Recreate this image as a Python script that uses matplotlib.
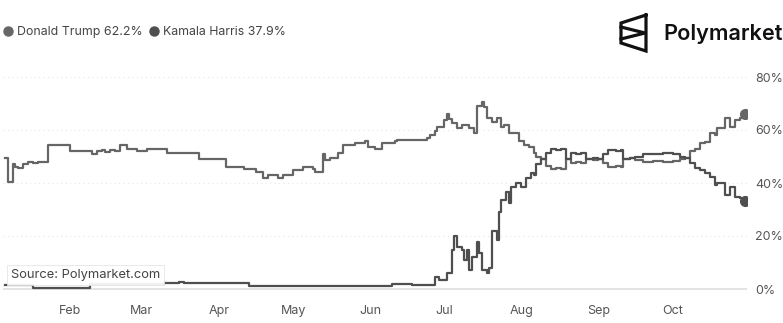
import matplotlib
matplotlib.use("Agg")
import matplotlib.pyplot as plt
import matplotlib.dates as mdates
from matplotlib.lines import Line2D
import numpy as np

plt.rcParams['font.family'] = ['Inter', 'DejaVu Sans']

# Polymarket odds, 2024 presidential election (percent)
trump_dates = [
    '2024-01-06', '2024-01-07', '2024-01-09', '2024-01-10', '2024-01-11', '2024-01-13',
    '2024-01-15', '2024-01-17', '2024-01-19', '2024-01-23', '2024-02-01', '2024-02-10',
    '2024-02-12', '2024-02-14', '2024-02-15', '2024-02-17', '2024-02-19', '2024-02-21',
    '2024-02-24', '2024-02-28', '2024-03-03', '2024-03-11', '2024-03-24', '2024-04-04',
    '2024-04-11', '2024-04-16', '2024-04-19', '2024-04-21', '2024-04-25', '2024-04-27',
    '2024-05-01', '2024-05-05', '2024-05-09', '2024-05-10', '2024-05-13', '2024-05-14',
    '2024-05-16', '2024-05-19', '2024-05-21', '2024-05-26', '2024-05-30', '2024-05-31',
    '2024-06-03', '2024-06-06', '2024-06-11', '2024-06-12', '2024-06-22', '2024-06-24',
    '2024-06-25', '2024-06-27', '2024-06-28', '2024-07-01', '2024-07-02', '2024-07-03',
    '2024-07-04', '2024-07-06', '2024-07-08', '2024-07-09', '2024-07-11', '2024-07-13',
    '2024-07-14', '2024-07-16', '2024-07-17', '2024-07-18', '2024-07-20', '2024-07-22',
    '2024-07-24', '2024-07-25', '2024-07-27', '2024-07-29', '2024-07-31', '2024-08-02',
    '2024-08-04', '2024-08-06', '2024-08-07', '2024-08-09', '2024-08-11', '2024-08-13',
    '2024-08-15', '2024-08-17', '2024-08-19', '2024-08-21', '2024-08-23', '2024-08-25',
    '2024-08-27', '2024-08-30', '2024-09-01', '2024-09-03', '2024-09-05', '2024-09-08',
    '2024-09-10', '2024-09-11', '2024-09-14', '2024-09-16', '2024-09-19', '2024-09-23',
    '2024-09-27', '2024-10-01', '2024-10-04', '2024-10-06', '2024-10-08', '2024-10-10',
    '2024-10-12', '2024-10-14', '2024-10-16', '2024-10-18', '2024-10-19', '2024-10-22',
    '2024-10-24', '2024-10-26', '2024-10-28', '2024-10-30',
]
trump_pct = [
    49.6, 40.5, 47.0, 46.0, 45.5, 47.0,
    48.0, 47.5, 48.0, 54.5, 52.0, 51.0,
    52.0, 52.6, 51.8, 52.3, 52.0, 54.5,
    53.0, 52.0, 53.0, 51.5, 49.0, 46.0,
    45.4, 44.3, 42.0, 43.0, 42.0, 43.0,
    45.0, 46.0, 45.4, 44.3, 51.0, 48.5,
    49.6, 51.5, 54.5, 55.0, 56.0, 53.5,
    53.0, 55.0, 56.0, 56.2, 56.2, 56.8,
    58.0, 59.5, 61.0, 63.6, 66.0, 64.0,
    62.5, 60.6, 62.0, 61.7, 60.6, 59.0,
    69.0, 70.5, 68.6, 64.4, 63.0, 64.4,
    61.0, 62.0, 58.7, 59.0, 56.0, 54.4,
    53.6, 51.3, 50.0, 48.9, 46.5, 45.3,
    45.8, 45.3, 49.0, 47.5, 48.0, 47.5,
    49.0, 48.5, 49.0, 47.5, 46.0, 46.5,
    46.0, 49.0, 49.3, 48.8, 47.9, 48.3,
    47.8, 48.2, 49.0, 49.5, 52.0, 53.0,
    55.0, 55.5, 59.0, 58.0, 60.6, 64.4,
    61.0, 63.6, 64.5, 66.0,
]

harris_dates = [
    '2024-01-06', '2024-01-17', '2024-02-09', '2024-03-10', '2024-03-16', '2024-03-18',
    '2024-04-13', '2024-05-12', '2024-06-03', '2024-06-10', '2024-06-18', '2024-06-26',
    '2024-06-27', '2024-06-29', '2024-07-02', '2024-07-04', '2024-07-05', '2024-07-06',
    '2024-07-08', '2024-07-09', '2024-07-10', '2024-07-11', '2024-07-12', '2024-07-14',
    '2024-07-15', '2024-07-16', '2024-07-18', '2024-07-19', '2024-07-20', '2024-07-22',
    '2024-07-23', '2024-07-24', '2024-07-26', '2024-07-27', '2024-07-28', '2024-07-30',
    '2024-08-01', '2024-08-03', '2024-08-05', '2024-08-06', '2024-08-07', '2024-08-09',
    '2024-08-11', '2024-08-13', '2024-08-15', '2024-08-17', '2024-08-19', '2024-08-21',
    '2024-08-23', '2024-08-25', '2024-08-27', '2024-08-30', '2024-09-01', '2024-09-03',
    '2024-09-05', '2024-09-08', '2024-09-10', '2024-09-11', '2024-09-14', '2024-09-16',
    '2024-09-19', '2024-09-23', '2024-09-27', '2024-10-01', '2024-10-04', '2024-10-06',
    '2024-10-08', '2024-10-10', '2024-10-12', '2024-10-14', '2024-10-16', '2024-10-18',
    '2024-10-19', '2024-10-22', '2024-10-24', '2024-10-26', '2024-10-28', '2024-10-30',
]
harris_pct = [
    1.5, 0.5, 2.0, 2.2, 2.6, 2.2,
    1.2, 1.0, 1.3, 1.8, 1.6, 1.5,
    4.5, 3.4, 6.0, 14.7, 20.0, 16.0,
    14.7, 11.0, 14.7, 7.0, 12.0, 17.7,
    13.5, 7.0, 6.0, 8.0, 22.0, 18.5,
    29.0, 33.5, 36.6, 32.5, 38.5, 40.0,
    38.5, 42.0, 43.8, 43.0, 47.0, 48.9,
    51.5, 53.0, 52.5, 53.0, 49.0, 51.5,
    51.0, 51.5, 49.0, 49.5, 49.0, 51.0,
    52.4, 52.0, 52.5, 49.0, 49.5, 50.0,
    51.0, 50.8, 51.3, 50.8, 50.0, 49.5,
    47.5, 45.7, 45.0, 43.8, 42.4, 39.3,
    40.0, 35.5, 38.5, 34.7, 34.5, 33.3,
]

legend_labels = ['Donald Trump 62.2%', 'Kamala Harris 37.9%']
trump_color = '#666666'
harris_color = '#4f4f4f'

W, H = 783, 323
fig = plt.figure(figsize=(W / 100, H / 100), dpi=100)
ax = fig.add_axes([3 / W, 1 - 294.3 / H, 744 / W, (294.3 - 71.7) / H])

td = np.array(trump_dates, dtype='datetime64[D]')
hd = np.array(harris_dates, dtype='datetime64[D]')

# gridlines and baseline
for g in [20, 40, 60, 80]:
    ax.axhline(g, color='#e6e6e6', lw=0.8, ls=(0, (1, 3)), zorder=0)
ax.axhline(0, color='#dedede', lw=1.2, zorder=0)

ax.plot(td, trump_pct, color=trump_color, lw=1.6, drawstyle='steps-post', zorder=3)
ax.plot(hd, harris_pct, color=harris_color, lw=1.6, drawstyle='steps-post', zorder=3)
ax.plot(td[-1], trump_pct[-1], 'o', color=trump_color, ms=7, zorder=4)
ax.plot(hd[-1], harris_pct[-1], 'o', color=harris_color, ms=7, zorder=4)

ax.set_xlim(np.datetime64('2024-01-05'), np.datetime64('2024-10-31'))
ax.set_ylim(-2, 82)

ax.xaxis.set_major_locator(mdates.MonthLocator(bymonth=range(2, 11)))
ax.xaxis.set_major_formatter(mdates.DateFormatter('%b'))
ax.yaxis.tick_right()
ax.set_yticks([0, 20, 40, 60, 80])
ax.set_yticklabels(['0%', '20%', '40%', '60%', '80%'])
ax.tick_params(axis='both', length=0, labelsize=9, labelcolor='#555555')
ax.tick_params(axis='x', pad=8)
ax.tick_params(axis='y', pad=6)
for s in ax.spines.values():
    s.set_visible(False)

# legend
handles = [Line2D([], [], marker='o', ls='none', color=trump_color, ms=6.5),
           Line2D([], [], marker='o', ls='none', color=harris_color, ms=6.5)]
fig.legend(handles, legend_labels, loc='center left', bbox_to_anchor=(2 / W, 1 - 32 / H),
           ncol=2, frameon=False, fontsize=8.9, handletextpad=0.3, columnspacing=0.45,
           handlelength=0.9, borderpad=0, borderaxespad=0, labelcolor='#444444')

# source box
fig.text(11 / W, 1 - 275 / H, 'Source: Polymarket.com', fontsize=9.3, color='#444444',
         va='center', ha='left',
         bbox=dict(boxstyle='square,pad=0.3', facecolor='white', edgecolor='#e3e3e3',
                   lw=0.6, alpha=0.92))

# Polymarket logo
def fpx(xs, ys):
    return [x / W for x in xs], [1 - y / H for y in ys]

for xs, ys in [([646, 621, 621, 646, 646], [15, 23, 43, 51, 15]),
               ([621, 645, 621], [27, 33, 39])]:
    fx, fy = fpx(xs, ys)
    fig.add_artist(Line2D(fx, fy, color='#111111', lw=2.3, solid_joinstyle='miter'))
fig.text(663 / W, 1 - 34 / H, 'Polymarket', fontsize=15.6, fontweight='semibold',
         color='#111111', va='center', ha='left')

fig.savefig('out.png', dpi=100)
